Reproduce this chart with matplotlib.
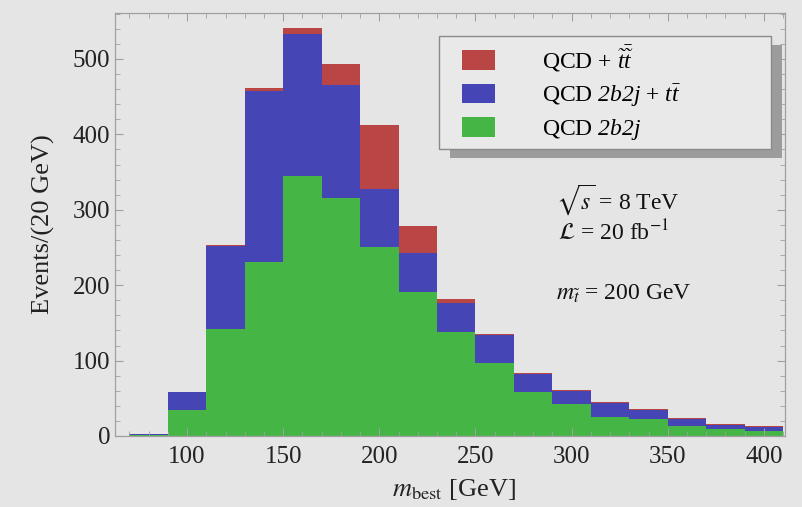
import matplotlib
matplotlib.use("Agg")
import matplotlib.pyplot as plt
from matplotlib.ticker import MultipleLocator
from matplotlib.patches import Rectangle

# ---- data ----
bin_low = [70, 90, 110, 130, 150, 170, 190, 210, 230, 250, 270, 290, 310, 330, 350, 370, 390]
bin_width = 20
qcd_2b2j = [1, 35, 142, 231, 345, 316, 250, 191, 138, 97, 59, 42, 25, 23, 13, 9, 7]
ttbar = [1, 23, 110, 226, 188, 150, 77, 52, 39, 37, 23, 18, 19, 12, 10, 6, 5]
stop = [0, 0, 1, 4, 8, 28, 86, 35, 5, 1, 1, 1, 1, 1, 1, 1, 1]
labels = [r"QCD + $\tilde{t}\bar{\tilde{t}}$", r"QCD $2b2j$ + $t\bar{t}$", r"QCD $2b2j$"]

RED = "#b94545"
BLUE = "#4545b5"
GREEN = "#45b545"
BG = "#e5e5e5"
FRAME = "#a0a0a0"

plt.rcParams["font.family"] = ["Liberation Serif", "DejaVu Serif"]
# custom math font: everything in math mode italic (digits too), Times-like
plt.rcParams["mathtext.fontset"] = "custom"
plt.rcParams["mathtext.rm"] = "Liberation Serif:italic"
plt.rcParams["mathtext.it"] = "Liberation Serif:italic"
plt.rcParams["mathtext.bf"] = "Liberation Serif:bold"

W, H = 802, 507
fig = plt.figure(figsize=(W / 100, H / 100), dpi=100, facecolor=BG)
ax_l, ax_r, ax_t, ax_b = 115, 785, 13, 436
ax = fig.add_axes([ax_l / W, 1 - ax_b / H, (ax_r - ax_l) / W, (ax_b - ax_t) / H])
ax.set_facecolor(BG)

base2 = [a + b for a, b in zip(qcd_2b2j, ttbar)]
ax.bar(bin_low, qcd_2b2j, width=bin_width, align="edge", color=GREEN, linewidth=0, label=labels[2])
ax.bar(bin_low, ttbar, width=bin_width, bottom=qcd_2b2j, align="edge", color=BLUE, linewidth=0, label=labels[1])
ax.bar(bin_low, stop, width=bin_width, bottom=base2, align="edge", color=RED, linewidth=0, label=labels[0])

ax.set_xlim(62.5, 411)
ax.set_ylim(0, 561)
ax.xaxis.set_major_locator(MultipleLocator(50))
ax.xaxis.set_minor_locator(MultipleLocator(10))
ax.yaxis.set_major_locator(MultipleLocator(100))
ax.yaxis.set_minor_locator(MultipleLocator(20))
ax.tick_params(which="both", direction="in", top=True, right=True, color=FRAME,
               labelsize=18, labelcolor="#222222")
ax.tick_params(which="major", length=6, width=0.8)
ax.tick_params(which="minor", length=3.5, width=0.6)
ax.tick_params(axis="x", pad=7)
for s in ax.spines.values():
    s.set_color(FRAME)
    s.set_linewidth(0.9)

fig.text(43 / W, 1 - 224 / H, "Events/(20 GeV)", rotation=90, ha="center", va="center",
         fontsize=19, color="#222222")
fig.text(454 / W, 1 - 490 / H, r"$m_{\rm best}$ [GeV]", ha="center", va="center",
         fontsize=19, color="#222222", math_fontfamily="stix")

# legend frame + shadow (fixed pixel box)
def px_rect(x0, y0, x1, y1, **kw):
    r = Rectangle((x0 / W, 1 - y1 / H), (x1 - x0) / W, (y1 - y0) / H,
                  transform=fig.transFigure, clip_on=False, **kw)
    ax.add_artist(r)
    return r

px_rect(450, 45, 782, 158, facecolor="#9c9c9c", edgecolor="none", zorder=5)
px_rect(439, 36, 771, 149, facecolor="#e9e9e9", edgecolor="#8a8a8a", linewidth=1.0, zorder=5.5)

handles, labs = ax.get_legend_handles_labels()
order = [2, 1, 0]
ax_w, ax_h = ax_r - ax_l, ax_b - ax_t
leg = ax.legend([handles[i] for i in order], [labs[i] for i in order],
                loc="upper left", bbox_to_anchor=((462 - ax_l) / ax_w, (ax_b - 43) / ax_h),
                borderaxespad=0, borderpad=0, fontsize=17, frameon=False,
                handlelength=1.4, handleheight=0.9, handletextpad=2.0, labelspacing=0.35)
leg.set_zorder(6)

# annotations
kw = dict(ha="left", va="center", fontsize=17, color="#111111", math_fontfamily="stix")
fig.text(556 / W, 1 - 200 / H, r"$\sqrt{s}$ = 8 TeV", **kw)
fig.text(558 / W, 1 - 233 / H, r"$\mathcal{L}$ = 20 fb$^{-1}$", **kw)
fig.text(556 / W, 1 - 294 / H, r"$m_{\tilde{t}}$ = 200 GeV", **kw)

fig.savefig("out.png", dpi=100, facecolor=BG)
